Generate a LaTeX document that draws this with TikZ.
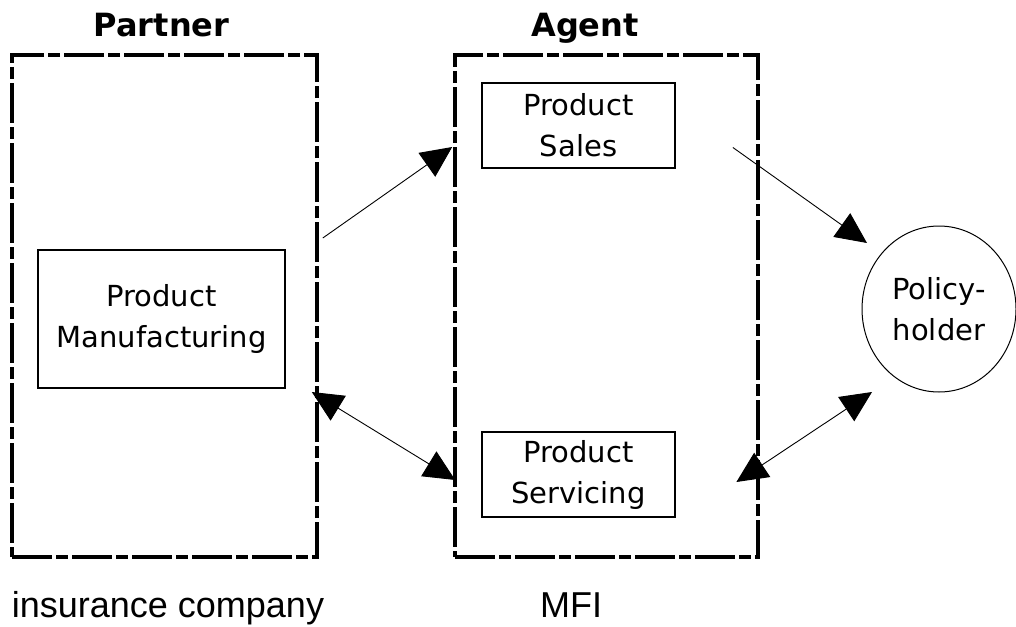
\documentclass[tikz,border=0pt]{standalone}
\usepackage{fontspec}
\setmainfont{DejaVu Sans}
\newfontfamily\labelfont{Liberation Sans}
\usetikzlibrary{arrows.meta,shapes.geometric}
\tikzset{
  group/.style={draw, line width=3.6pt, dash pattern=on 40pt off 4pt on 12pt off 4pt, minimum width=#1, minimum height=502pt, inner sep=0pt},
  title/.style={font=\fontsize{32}{38}\selectfont\bfseries, anchor=base, inner sep=0pt},
  boxed/.style={draw, line width=1.8pt, align=center, font=\fontsize{29}{41}\selectfont, inner sep=0pt},
  caption/.style={font=\labelfont\fontsize{36}{42}\selectfont, anchor=base, inner sep=0pt},
  conn/.style={line width=0.9pt, -{Triangle[length=31pt,width=29pt]}},
  biconn/.style={line width=0.9pt, {Triangle[length=31pt,width=29pt]}-{Triangle[length=31pt,width=29pt]}}
}
\begin{document}
\begin{tikzpicture}[x=1pt,y=-1pt]
\useasboundingbox (0,0) rectangle (1016,626);
\node[group=305pt] (partner) at (164.5,306) {};
\node[group=303pt] (agent) at (606.5,306) {};
\node[title] (partnerT) at (161.5,37) {Partner};
\node[title] (agentT) at (585,37) {Agent};
\node[boxed, minimum width=247pt, minimum height=138pt] (manuf) at (161.5,319) {Product\\Manufacturing};
\node[boxed, minimum width=193pt, minimum height=85pt] (sales) at (578.5,125.5) {Product\\Sales};
\node[boxed, minimum width=193pt, minimum height=85pt] (serv) at (578.5,474.5) {Product\\Servicing};
\node[draw, ellipse, line width=1pt, minimum width=154pt, minimum height=166pt, align=center, font=\fontsize{29}{41}\selectfont, inner sep=0pt] (policy) at (939,309) {Policy-\\holder};
\node[caption] (ins) at (168,617) {insurance company};
\node[caption] (mfi) at (571,617) {MFI};
\draw[conn] ([xshift=4pt,yshift=68pt]partner.east) -- ([xshift=-1pt,yshift=159pt]agent.west);
\draw[conn] ([xshift=57pt,yshift=-22pt]sales.east) -- ([xshift=-72pt,yshift=66pt]policy.center);
\draw[biconn] ([xshift=-7pt,yshift=-86pt]partner.east) -- ([xshift=2pt,yshift=-174pt]agent.west);
\draw[biconn] ([xshift=60.5pt,yshift=-7.5pt]serv.east) -- ([xshift=-67pt,yshift=-83pt]policy.center);
\end{tikzpicture}
\end{document}
